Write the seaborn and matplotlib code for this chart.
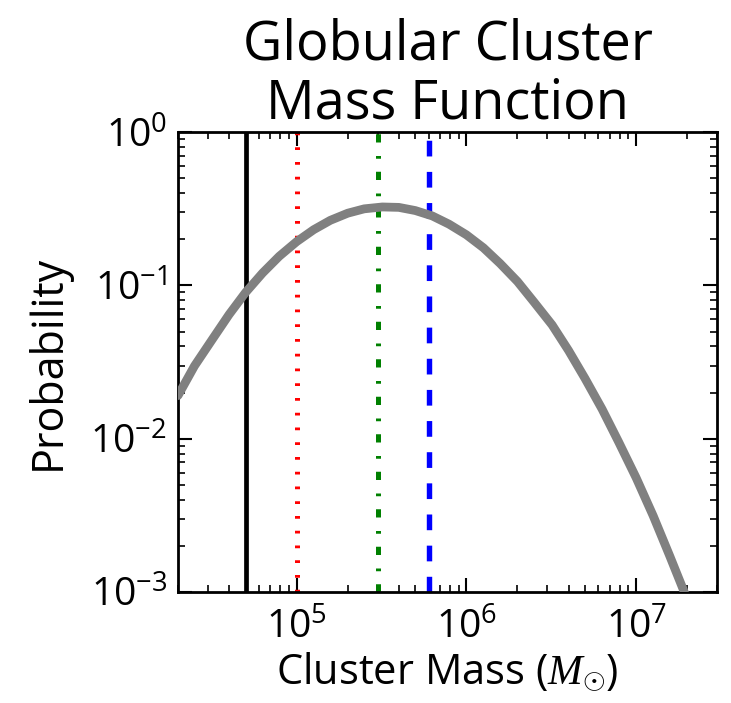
import numpy as np
import pandas as pd
import matplotlib
matplotlib.use("Agg")
import matplotlib.pyplot as plt
import seaborn as sns
from matplotlib.ticker import LogLocator, NullFormatter

# ---- data ----
mass = [2.0e4, 2.5e4, 3.2e4, 4.0e4, 5.0e4, 6.3e4, 7.9e4, 1.0e5, 1.26e5, 1.58e5,
        2.0e5, 2.5e5, 3.2e5, 4.0e5, 5.0e5, 6.3e5, 7.9e5, 1.0e6, 1.26e6, 1.58e6,
        2.0e6, 2.5e6, 3.2e6, 4.0e6, 5.0e6, 6.3e6, 7.9e6, 1.0e7, 1.26e7, 1.58e7,
        2.0e7, 2.5e7]
probability = [0.0191, 0.0298, 0.0448, 0.0646, 0.0899, 0.1205, 0.155, 0.193, 0.231, 0.266,
               0.296, 0.316, 0.325, 0.323, 0.308, 0.284, 0.251, 0.214, 0.176, 0.139,
               0.106, 0.0780, 0.0552, 0.0376, 0.0247, 0.0156, 0.00949, 0.00556, 0.00314, 0.00171,
               0.000893, 0.000451]
vline_mass = [5e4, 1e5, 3e5, 6e5]
vline_colors = ["black", "red", "green", "blue"]
title_text = "Globular Cluster\nMass Function"
xlabel_text = r"Cluster Mass ($M_{\odot}$)"
ylabel_text = "Probability"

sns.set_style("ticks")
plt.rcParams["font.family"] = ["Open Sans", "DejaVu Sans"]
plt.rcParams["mathtext.fontset"] = "custom"
plt.rcParams["mathtext.rm"] = "Open Sans"
plt.rcParams["mathtext.it"] = "Liberation Serif:italic"
plt.rcParams["mathtext.fallback"] = "cm"
plt.rcParams["axes.unicode_minus"] = False
for k in ["text.color", "axes.labelcolor", "xtick.color", "ytick.color", "axes.edgecolor"]:
    plt.rcParams[k] = "black"

df = pd.DataFrame({"mass": mass, "probability": probability})

fig = plt.figure(figsize=(7.31, 7.03), dpi=100)
ax = fig.add_axes([0.2435, 0.158, 0.7375, 0.654])

vline_styles = [
    dict(ls="-", lw=3.4),
    dict(ls=(0, (0.55, 2.4)), lw=3.6),
    dict(ls=(0, (1.65, 2.6, 0.55, 2.7)), lw=3.6),
    dict(ls=(0, (2.9, 2.85)), lw=3.9),
]
for m, c, st in zip(vline_mass, vline_colors, vline_styles):
    ax.axvline(m, color=c, dash_capstyle="butt", **st)

sns.lineplot(data=df, x="mass", y="probability", ax=ax, color="gray", lw=6.3,
             legend=False, zorder=3)

ax.set_xscale("log")
ax.set_yscale("log")
ax.set_xlim(2e4, 3e7)
ax.set_ylim(1e-3, 1e0)

ax.xaxis.set_major_locator(LogLocator(base=10, numticks=10))
ax.xaxis.set_minor_locator(LogLocator(base=10, subs=np.arange(2, 10), numticks=20))
ax.yaxis.set_major_locator(LogLocator(base=10, numticks=10))
ax.yaxis.set_minor_locator(LogLocator(base=10, subs=np.arange(2, 10), numticks=20))
ax.xaxis.set_minor_formatter(NullFormatter())
ax.yaxis.set_minor_formatter(NullFormatter())

for s in ax.spines.values():
    s.set_linewidth(2)
    s.set_color("black")
ax.tick_params(which="both", direction="in", top=True, right=True, colors="black")
ax.tick_params(which="major", length=10, width=1.5, labelsize=28)
ax.tick_params(axis="x", which="major", pad=12)
ax.tick_params(axis="y", which="major", pad=8)
ax.tick_params(which="minor", length=5, width=1.2)

ax.set_xlabel(xlabel_text, fontsize=30, labelpad=2)
ax.set_ylabel(ylabel_text, fontsize=31, labelpad=14)
ax.set_title(title_text, fontsize=39, linespacing=1.08, pad=10)

fig.savefig("out.png", dpi=100)
